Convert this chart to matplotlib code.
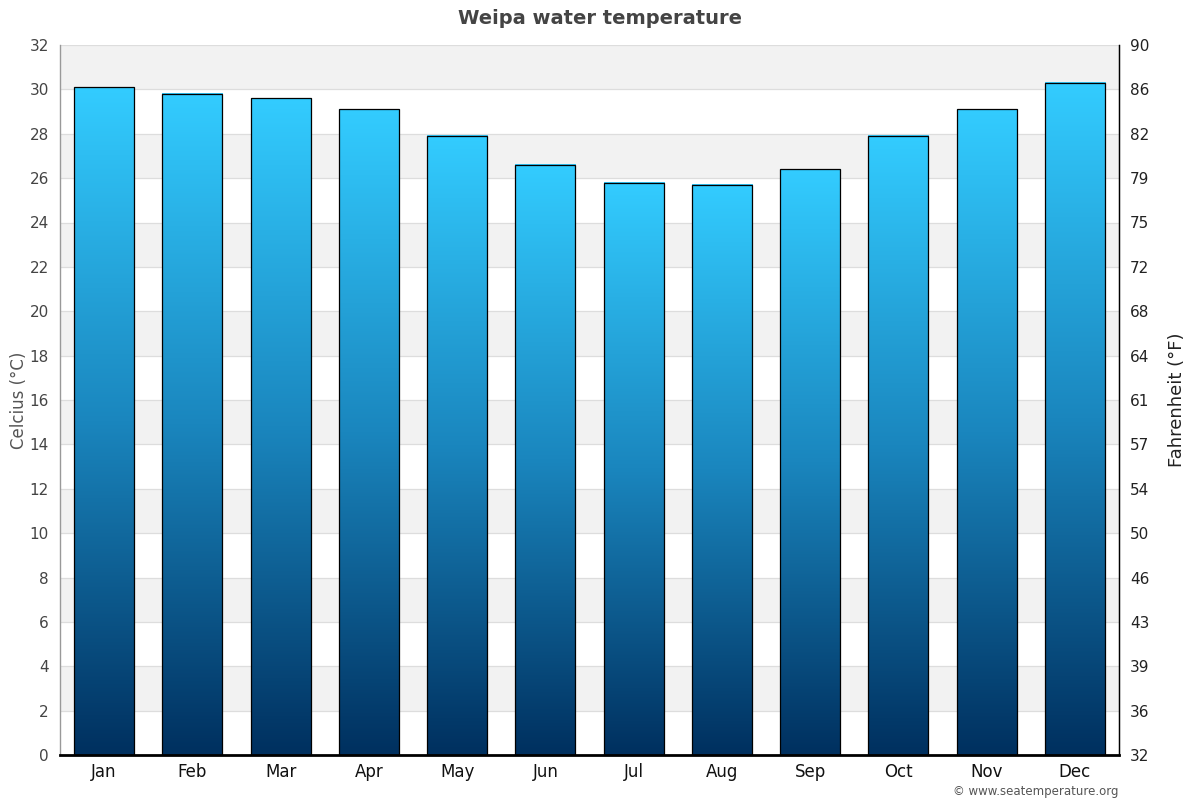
import numpy as np
import matplotlib
matplotlib.use("Agg")
import matplotlib.pyplot as plt
from matplotlib.colors import LinearSegmentedColormap

months = ["Jan", "Feb", "Mar", "Apr", "May", "Jun", "Jul", "Aug", "Sep", "Oct", "Nov", "Dec"]
water_c = [30.1, 29.8, 29.6, 29.1, 27.9, 26.6, 25.8, 25.7, 26.4, 27.9, 29.1, 30.3]
c_ticks = list(range(0, 33, 2))
f_labels = ["32", "36", "39", "43", "46", "50", "54", "57", "61", "64", "68", "72", "75", "79", "82", "86", "90"]

plt.rcParams['font.family'] = ['DejaVu Sans']

fig = plt.figure(figsize=(12, 8), dpi=100)
ax = fig.add_axes([0.05, 0.05625, 0.8825, 0.8875])

ymax = 32
ax.set_ylim(0, ymax)
ax.set_xlim(-0.5, len(months) - 0.5)

# background bands
for lo in range(2, ymax, 4):
    ax.axhspan(lo, lo + 2, color="#f2f2f2", zorder=0, lw=0)
for t in c_ticks:
    ax.axhline(t, color="#dddddd", lw=0.9, zorder=0.5)

cmap = LinearSegmentedColormap.from_list("sea", ["#00305f", "#1a86be", "#33ccff"])
grad = np.linspace(0, 1, 256).reshape(-1, 1)
width = 0.68
x = np.arange(len(months))
for xi, v in zip(x, water_c):
    ax.imshow(grad, cmap=cmap, origin="lower", aspect="auto",
              extent=[xi - width / 2, xi + width / 2, 0, v], zorder=2, interpolation="bilinear")
ax.bar(x, water_c, width=width, facecolor="none", edgecolor="black", lw=0.9, zorder=3)
ax.set_xlim(-0.5, len(months) - 0.5)
ax.set_ylim(0, ymax)

ax.set_xticks(x)
ax.set_xticklabels(months, fontsize=12, color="#111111")
ax.set_yticks(c_ticks)
ax.set_yticklabels([str(t) for t in c_ticks], fontsize=11, color="#444444")
ax.tick_params(axis="x", length=0, pad=6)
ax.tick_params(axis="y", length=0, pad=8)

ax.spines["top"].set_visible(False)
ax.spines["left"].set_color("#999999")
ax.spines["left"].set_linewidth(1)
ax.spines["bottom"].set_color("black")
ax.spines["bottom"].set_linewidth(2)
ax.spines["right"].set_color("black")
ax.spines["right"].set_linewidth(1)

ax.set_ylabel("Celcius (°C)", fontsize=12, color="#555555", labelpad=1)

ax2 = ax.twinx()
ax2.set_ylim(0, ymax)
ax2.set_yticks(c_ticks)
ax2.set_yticklabels(f_labels, fontsize=11, color="#222222")
ax2.tick_params(axis="y", length=0, pad=8)
for s in ["top", "left", "bottom"]:
    ax2.spines[s].set_visible(False)
ax2.spines["right"].set_color("black")
ax2.set_ylabel("Fahrenheit (°F)", fontsize=13, color="#222222", labelpad=13)

fig.text(0.5, 0.977, "Weipa water temperature", ha="center", va="center",
         fontsize=14, fontweight="bold", color="#444444")
fig.text(0.932, 0.011, "© www.seatemperature.org", ha="right", va="center",
         fontsize=8.5, color="#555555")

fig.savefig("out.png", dpi=100)
